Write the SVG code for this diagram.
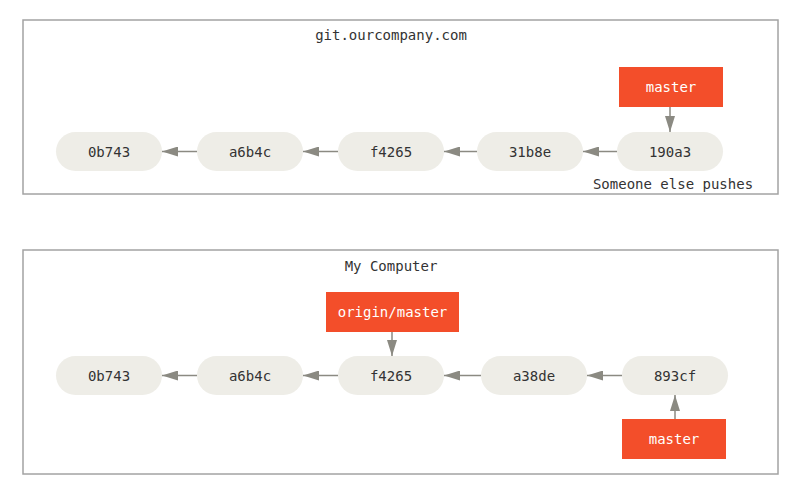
<svg xmlns="http://www.w3.org/2000/svg" width="800" height="492" viewBox="0 0 800 492">
<style>
.frame{fill:#fff;stroke:#a3a3a3;stroke-width:1.5}
.commit{fill:#eeede7}
.branch{fill:#f34e2a}
.t{font-family:"DejaVu Sans Mono","Liberation Mono",monospace;font-size:14px;text-anchor:middle;dominant-baseline:central;fill:#333}
.w{fill:#fff}
.conn{stroke:#8b8a82;stroke-width:1.5;fill:none;marker-end:url(#ah)}
</style>
<defs>
<marker id="ah" markerWidth="16" markerHeight="10" refX="16" refY="5" orient="auto" markerUnits="userSpaceOnUse">
<path d="M0,0 L16,5 L0,10 z" fill="#8b8a82"/>
</marker>
</defs>
<rect fill="#fff" width="800" height="492"/>
<g id="server">
<rect class="frame" x="23" y="20" width="755" height="174"/>
<text class="t" x="391" y="35">git.ourcompany.com</text>
<text class="t" x="673" y="184">Someone else pushes</text>
</g>
<g id="local">
<rect class="frame" x="23" y="250" width="755" height="224"/>
<text class="t" x="391" y="266">My Computer</text>
</g>
<g id="s0b743"><rect class="commit" x="56" y="132" width="106" height="39" rx="19.5"/><text class="t" x="109" y="151.5">0b743</text></g>
<g id="sa6b4c"><rect class="commit" x="197" y="132" width="106" height="39" rx="19.5"/><text class="t" x="250" y="151.5">a6b4c</text></g>
<g id="sf4265"><rect class="commit" x="338" y="132" width="106" height="39" rx="19.5"/><text class="t" x="391" y="151.5">f4265</text></g>
<g id="s31b8e"><rect class="commit" x="477" y="132" width="106" height="39" rx="19.5"/><text class="t" x="530" y="151.5">31b8e</text></g>
<g id="s190a3"><rect class="commit" x="617" y="132" width="106" height="39" rx="19.5"/><text class="t" x="670" y="151.5">190a3</text></g>
<g id="smaster"><rect class="branch" x="619" y="67" width="104" height="40"/><text class="t w" x="671" y="87">master</text></g>
<g id="l0b743"><rect class="commit" x="56" y="356" width="106" height="39" rx="19.5"/><text class="t" x="109" y="375.5">0b743</text></g>
<g id="la6b4c"><rect class="commit" x="197" y="356" width="106" height="39" rx="19.5"/><text class="t" x="250" y="375.5">a6b4c</text></g>
<g id="lf4265"><rect class="commit" x="338" y="356" width="106" height="39" rx="19.5"/><text class="t" x="391" y="375.5">f4265</text></g>
<g id="la38de"><rect class="commit" x="481" y="356" width="106" height="39" rx="19.5"/><text class="t" x="534" y="375.5">a38de</text></g>
<g id="l893cf"><rect class="commit" x="622" y="356" width="106" height="39" rx="19.5"/><text class="t" x="675" y="375.5">893cf</text></g>
<g id="lorigin"><rect class="branch" x="326" y="292" width="133" height="40"/><text class="t w" x="392.5" y="312">origin/master</text></g>
<g id="lmaster"><rect class="branch" x="622" y="419" width="104" height="40"/><text class="t w" x="674" y="439">master</text></g>
<g id="connectors">
<line class="conn" x1="197" y1="151.5" x2="162" y2="151.5"/>
<line class="conn" x1="338" y1="151.5" x2="303" y2="151.5"/>
<line class="conn" x1="477" y1="151.5" x2="444" y2="151.5"/>
<line class="conn" x1="617" y1="151.5" x2="583" y2="151.5"/>
<line class="conn" x1="670" y1="107" x2="670" y2="132"/>
<line class="conn" x1="197" y1="375.5" x2="162" y2="375.5"/>
<line class="conn" x1="338" y1="375.5" x2="303" y2="375.5"/>
<line class="conn" x1="481" y1="375.5" x2="444" y2="375.5"/>
<line class="conn" x1="622" y1="375.5" x2="587" y2="375.5"/>
<line class="conn" x1="392" y1="332" x2="392" y2="356"/>
<line class="conn" x1="675" y1="419" x2="675" y2="395"/>
</g>
</svg>
